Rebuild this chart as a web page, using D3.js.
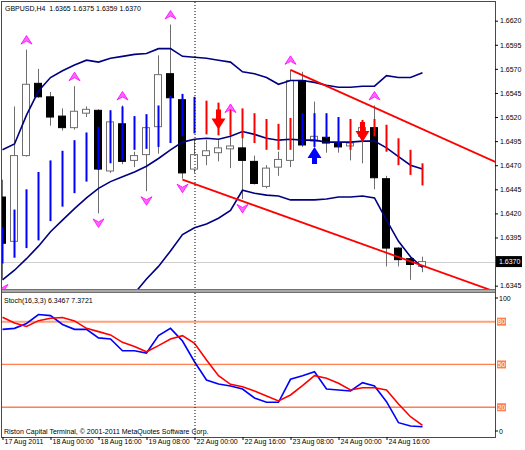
<!DOCTYPE html>
<html><head><meta charset="utf-8">
<script src="https://cdn.jsdelivr.net/npm/d3@7"></script>
<style>
html,body{margin:0;padding:0;background:#fff;}
svg{display:block;}
text{font-family:"Liberation Sans",Arial,sans-serif;font-size:7px;}
</style></head><body>
<svg id="c" width="525" height="450"></svg>
<script>
// ---------- DATA ----------
const chartTitle = "GBPUSD,H4  1.6365 1.6375 1.6359 1.6370";
const stochTitle = "Stoch(16,3,3) 6.3467 7.3721";
const copyrightText = "Riston Capital Terminal, \u00A9 2001-2011 MetaQuotes Software Corp.";

const openP  = [1.6437,1.6391,1.6480,1.6555,1.6541,1.6521,1.6509,1.6524,1.6527,1.6464,1.6513,1.6475,1.6481,1.6510,1.6565,1.6538,1.6466,1.6480,1.6483,1.6487,1.6488,1.6474,1.6448,1.6468,1.6475,1.6558,1.6495,1.6499,1.6493,1.6490,1.6500,1.6509,1.6456,1.6384,1.6373,1.6365];
const highP  = [1.6455,1.6531,1.6590,1.6570,1.6546,1.6529,1.6552,1.6531,1.6528,1.6527,1.6532,1.6484,1.6514,1.6584,1.6616,1.6544,1.6496,1.6496,1.6496,1.6519,1.6509,1.6480,1.6470,1.6484,1.6569,1.6567,1.6536,1.6501,1.6496,1.6499,1.6512,1.6532,1.6459,1.6385,1.6375,1.6375];
const lowP   = [1.6352,1.6389,1.6479,1.6540,1.6511,1.6506,1.6507,1.6520,1.6420,1.6462,1.6471,1.6468,1.6443,1.6482,1.6527,1.6456,1.6462,1.6470,1.6474,1.6467,1.6435,1.6450,1.6446,1.6459,1.6468,1.6489,1.6490,1.6483,1.6483,1.6475,1.6472,1.6445,1.6365,1.6365,1.6351,1.6359];
const closeP = [1.6389,1.6480,1.6554,1.6541,1.6520,1.6509,1.6526,1.6528,1.6466,1.6515,1.6474,1.6480,1.6509,1.6564,1.6540,1.6462,1.6481,1.6485,1.6488,1.6490,1.6475,1.6451,1.6467,1.6476,1.6558,1.6491,1.6500,1.6493,1.6489,1.6493,1.6509,1.6457,1.6384,1.6372,1.6367,1.6370];

const bandUpper  = [1.6486,1.6492,1.6522,1.6547,1.6561,1.6568,1.6574,1.6579,1.6577,1.6581,1.6583,1.6585,1.6586,1.6591,1.6591,1.6583,1.6582,1.6581,1.6579,1.6577,1.6567,1.6565,1.6561,1.6554,1.6558,1.6558,1.6556,1.6553,1.6551,1.6551,1.6552,1.6552,1.6563,1.6561,1.6561,1.6566];
const bandMiddle = [1.6351,1.6361,1.6373,1.6386,1.6401,1.6413,1.6425,1.6436,1.6446,1.6453,1.6458,1.6463,1.6469,1.6477,1.6486,1.6494,1.6497,1.6498,1.6497,1.6500,1.6505,1.6502,1.6498,1.6496,1.6497,1.6496,1.6496,1.6494,1.6494,1.6494,1.6495,1.6495,1.6488,1.6479,1.6470,1.6466];
const bandLower  = [null,null,null,null,null,null,null,null,null,null,1.6318,1.6337,1.6352,1.6365,1.6381,1.6398,1.6405,1.6409,1.6415,1.6423,1.6444,1.6441,1.6439,1.6438,1.6434,1.6434,1.6434,1.6435,1.6437,1.6437,1.6438,1.6436,1.6413,1.6391,1.6375,1.6364];

const trendHigh = [1.6406,1.6424,1.6445,1.6463,1.6475,1.6485,1.6496,1.6504,1.6510,1.6527,1.6531,1.6521,1.6523,1.6532,1.6542,1.6544,1.6541,1.6537,1.6535,1.6532,1.6529,1.6524,1.6518,1.6513,1.6519,1.6524,1.6524,1.6524,1.6520,1.6518,1.6517,1.6518,1.6512,1.6498,1.6486,1.6472];
const trendLow  = [1.6368,1.6374,1.6384,1.6392,1.6412,1.6427,1.6441,1.6453,1.6465,1.6472,1.6475,1.6486,1.6487,1.6489,1.6493,1.6500,1.6503,1.6502,1.6501,1.6501,1.6498,1.6493,1.6486,1.6486,1.6486,1.6491,1.6489,1.6498,1.6489,1.6486,1.6494,1.6500,1.6484,1.6470,1.6460,1.6449];
const trendDir  = [1,1,1,1,1,1,1,1,1,1,1,1,1,1,1,1,1,-1,-1,-1,-1,-1,-1,-1,-1,1,1,1,1,-1,-1,-1,-1,-1,-1,-1];

const fractalUpBars   = [2,6,10,14,19,24,31];
const fractalDownBars = [0,8,12,15,20];
const sellSignals = [{bar:18, price:1.6507},{bar:30, price:1.6494}];
const buySignals  = [{bar:26, price:1.6489}];

const channelUpper = [[24,1.6569],[41.5,1.6471]];
const channelLower = [[15,1.6455],[41,1.6339]];

const bidPrice = 1.6370;

const stochMain   = [74.6,75.3,78.7,85.0,84.2,78.0,74.6,74.6,68.6,67.8,59.6,59.6,58.0,70.2,75.3,66.4,51.9,39.1,36.3,34.9,32.8,26.5,23.5,23.5,39.6,42.1,44.9,32.8,32.1,31.4,37.2,34.9,23.9,9.2,6.9,6.3467];
const stochSignal = [83.1,79.1,76.6,80.7,82.4,82.9,80.5,75.3,73.0,70.7,65.5,62.5,58.9,63.2,67.8,70.2,64.8,53.1,42.1,36.1,34.4,31.4,27.9,24.4,28.6,35.1,42.1,40.3,36.8,32.1,33.7,33.7,32.1,22.3,13.4,7.3721];
const stochLevels = [80,50,20];
const stochLevelColors = ["#ffa07a","#ff7f50","#ff7f50"];
const stochAxisTicks = [100,0];

const priceTicks = [1.6620,1.6595,1.6570,1.6545,1.6520,1.6495,1.6470,1.6445,1.6420,1.6395,1.6345];
const timeTickBars   = [0,4,8,12,16,20,24,28,32];
const timeTickLabels = ["17 Aug 2011","18 Aug 00:00","18 Aug 16:00","19 Aug 08:00","22 Aug 00:00","22 Aug 16:00","23 Aug 08:00","24 Aug 00:00","24 Aug 16:00"];
const separatorBar = 16;

// ---------- LAYOUT ----------
const L = 2, R = 495, mainTop = 2, mainBot = 290, stTop = 293, stBot = 437;
const svg = d3.select('#c');
const bars = d3.range(openP.length);
const x  = d3.scaleLinear().domain([0, 35]).range([2.5, 422.5]);
const yP = d3.scaleLinear().domain([1.63405, 1.66394]).range([mainBot, mainTop]);
const yS = d3.scaleLinear().domain([0, 100]).range([435.8, 293.1]);

const defs = svg.append('defs');
defs.append('clipPath').attr('id','cm').append('rect').attr('x',L).attr('y',mainTop).attr('width',R-L).attr('height',mainBot-mainTop);
defs.append('clipPath').attr('id','cs').append('rect').attr('x',L).attr('y',stTop).attr('width',R-L).attr('height',stBot-stTop);

const main = svg.append('g').attr('clip-path','url(#cm)');
const stoch = svg.append('g').attr('clip-path','url(#cs)');

// bid line
main.append('line').attr('x1',L).attr('x2',R).attr('y1',Math.round(yP(bidPrice))+0.5).attr('y2',Math.round(yP(bidPrice))+0.5)
  .attr('stroke','#cfcfcf').attr('stroke-width',1);

// candles
const gC = main.append('g');
gC.selectAll('line').data(bars).join('line')
  .attr('x1',i=>x(i)).attr('x2',i=>x(i))
  .attr('y1',i=>yP(highP[i])).attr('y2',i=>yP(lowP[i]))
  .attr('stroke','#6e6e6e').attr('stroke-width',1);
gC.selectAll('rect').data(bars).join('rect')
  .attr('x',i=>x(i)-4).attr('width',7)
  .attr('y',i=>yP(Math.max(openP[i],closeP[i])))
  .attr('height',i=>Math.max(1,Math.abs(yP(openP[i])-yP(closeP[i]))))
  .attr('fill',i=>closeP[i]>=openP[i]?'#ffffff':'#000000')
  .attr('stroke',i=>closeP[i]>=openP[i]?'#6e6e6e':'#000000')
  .attr('stroke-width',1);

// period separator
svg.append('line').attr('x1',x(separatorBar)+0.5).attr('x2',x(separatorBar)+0.5).attr('y1',mainTop).attr('y2',stBot)
  .attr('stroke','#000').attr('stroke-width',1).attr('stroke-dasharray','1,2');

// bands
const bandLine = d3.line().defined(d=>d!=null).x((d,i)=>x(i)).y(d=>yP(d));
[bandUpper, bandMiddle, bandLower].forEach(b=>{
  main.append('path').attr('d',bandLine(b)).attr('fill','none').attr('stroke','#000080').attr('stroke-width',1.6);
});

// trend histogram lines
main.append('g').selectAll('line').data(bars).join('line')
  .attr('x1',i=>x(i)).attr('x2',i=>x(i))
  .attr('y1',i=>yP(trendHigh[i])).attr('y2',i=>yP(trendLow[i]))
  .attr('stroke',i=>trendDir[i]>0?'#0000ff':'#ff0000').attr('stroke-width',2);

// channel lines
[channelUpper, channelLower].forEach(c=>{
  main.append('line').attr('x1',x(c[0][0])).attr('y1',yP(c[0][1])).attr('x2',x(c[1][0])).attr('y2',yP(c[1][1]))
    .attr('stroke','#ff0000').attr('stroke-width',1.8);
});

// fractals
const fUp = 'M0,-4.5 L5.5,4 L0,1 L-5.5,4 Z';
const fDn = 'M0,4.5 L5.5,-4 L0,-1 L-5.5,-4 Z';
main.append('g').selectAll('path').data(fractalUpBars).join('path')
  .attr('d',fUp).attr('transform',i=>`translate(${x(i)},${yP(highP[i])-9.5})`)
  .attr('fill','#ff66ff').attr('stroke','#ff00ff').attr('stroke-width',0.8);
main.append('g').selectAll('path').data(fractalDownBars).join('path')
  .attr('d',fDn).attr('transform',i=>`translate(${x(i)},${yP(lowP[i])+9.5})`)
  .attr('fill','#ff66ff').attr('stroke','#ff00ff').attr('stroke-width',0.8);

// signal arrows
const arrDown = 'M0,0 L-7,-11 L-2.5,-11 L-2.5,-20 L2.5,-20 L2.5,-11 L7,-11 Z';
const arrUp   = 'M0,0 L-7,11 L-2.5,11 L-2.5,17 L2.5,17 L2.5,11 L7,11 Z';
main.append('g').selectAll('path').data(sellSignals).join('path')
  .attr('d',arrDown).attr('transform',d=>`translate(${x(d.bar)},${yP(d.price)})`).attr('fill','#ff0000');
main.append('g').selectAll('path').data(buySignals).join('path')
  .attr('d',arrUp).attr('transform',d=>`translate(${x(d.bar)},${yP(d.price)})`).attr('fill','#0000ff');

// ---------- STOCH ----------
stochLevels.forEach((lv,k)=>{
  stoch.append('line').attr('x1',L).attr('x2',R).attr('y1',yS(lv)).attr('y2',yS(lv))
    .attr('stroke',stochLevelColors[k]).attr('stroke-width',k===0?2:1.3);
});
const sLine = d3.line().x((d,i)=>x(i)).y(d=>yS(d));
stoch.append('path').attr('d',sLine(stochMain)).attr('fill','none').attr('stroke','#0000ff').attr('stroke-width',1.6);
stoch.append('path').attr('d',sLine(stochSignal)).attr('fill','none').attr('stroke','#ff0000').attr('stroke-width',1.6);

// ---------- FRAME ----------
svg.append('rect').attr('x',L-0.5).attr('y',1.5).attr('width',R-L+1).attr('height',stBot-1).attr('fill','none').attr('stroke','#4a4a4a').attr('stroke-width',1);
svg.append('rect').attr('x',L).attr('y',mainBot-0.5).attr('width',R-L).attr('height',3).attr('fill','#a8a8a8');
svg.append('line').attr('x1',L).attr('x2',R).attr('y1',mainBot-0.5).attr('y2',mainBot-0.5).attr('stroke','#707070');
svg.append('line').attr('x1',L).attr('x2',R).attr('y1',stTop-0.5).attr('y2',stTop-0.5).attr('stroke','#707070');

// ---------- AXES ----------
const pAxis = d3.axisRight(yP).tickValues(priceTicks).tickSize(3).tickPadding(2).tickFormat(d3.format('.4f'));
const gPA = svg.append('g').attr('transform',`translate(${R},0)`).call(pAxis);
gPA.select('.domain').remove();
gPA.selectAll('line').attr('stroke','#000');
gPA.selectAll('text').attr('font-size',7).attr('font-family','"Liberation Sans",Arial,sans-serif').attr('fill','#000');

// bid label
const by = yP(bidPrice);
svg.append('rect').attr('x',R+1).attr('y',by-5.5).attr('width',26).attr('height',11).attr('fill','#000');
svg.append('text').attr('x',R+4).attr('y',by+2.5).attr('fill','#fff').text(d3.format('.4f')(bidPrice));

// stoch axis
stochAxisTicks.forEach(v=>{
  const yy = Math.min(431, Math.max(298, yS(v)));
  svg.append('line').attr('x1',R).attr('x2',R+3).attr('y1',yy).attr('y2',yy).attr('stroke','#000');
  svg.append('text').attr('x',R+4).attr('y',yy+2.5).attr('fill','#000').text(v);
});
stochLevels.forEach((lv,k)=>{
  const yy = yS(lv);
  svg.append('rect').attr('x',R+2).attr('y',yy-4).attr('width',9).attr('height',8).attr('fill','#ff7f50');
  svg.append('text').attr('x',R+2.5).attr('y',yy+2.5).attr('fill','#fff').text(lv);
});

// time axis
const tAxis = d3.axisBottom(x).tickValues(timeTickBars).tickSize(3).tickFormat((d,k)=>timeTickLabels[k]);
const gTA = svg.append('g').attr('transform',`translate(0,${stBot})`).call(tAxis);
gTA.select('.domain').remove();
gTA.selectAll('line').attr('stroke','#000');
gTA.selectAll('text').attr('text-anchor','start').attr('dx','1.5').attr('dy','0.5em').attr('y',3)
  .attr('font-size',6.4).attr('font-family','"Liberation Sans",Arial,sans-serif').attr('fill','#000');

// titles
svg.append('text').attr('x',5).attr('y',10.5).attr('fill','#000').attr('xml:space','preserve').text(chartTitle);
svg.append('text').attr('x',4).attr('y',302.5).attr('fill','#000').text(stochTitle);
svg.append('text').attr('x',4).attr('y',433.5).attr('fill','#000').text(copyrightText);
</script>
</body></html>
